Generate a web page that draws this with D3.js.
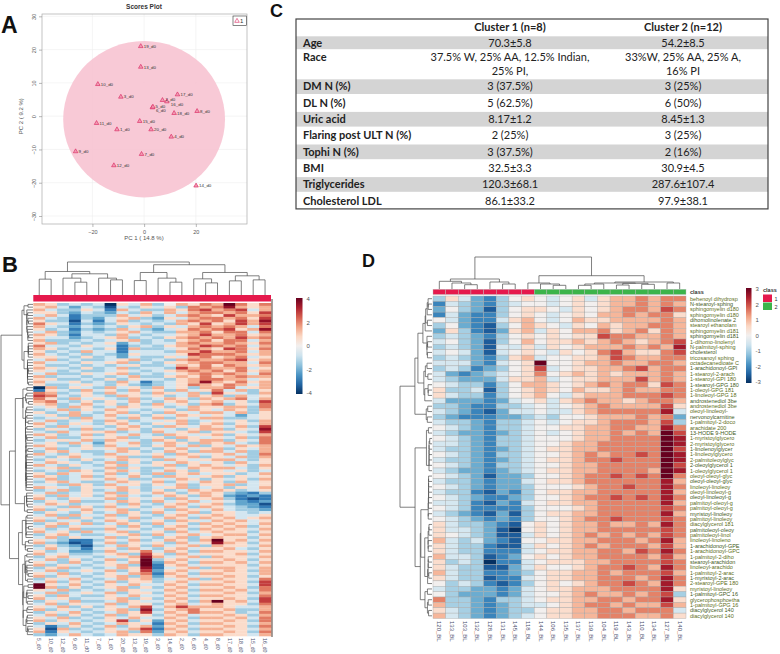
<!DOCTYPE html>
<html><head><meta charset="utf-8">
<script src="https://cdn.jsdelivr.net/npm/d3@7"></script>
<style>
body{margin:0;background:#fff;}
svg{display:block;font-family:"Liberation Sans",Arial,sans-serif;}
</style></head><body>
<svg id="fig" width="780" height="654"></svg>
<script>
// ---------------------------------------------------------------
// DATA
// ---------------------------------------------------------------
// Panel A: PCA scores
const pcaLabels = ["19_d0","13_d0","10_d0","3_d0","17_d0","2_d0","16_d0","5_d0","6_d0","8_d0","18_d0","15_d0","11_d0","1_d0","20_d0","4_d0","9_d0","7_d0","12_d0","14_d0"];
const pcaPC1 = [-1.3,-1.3,-17.9,-9.0,12.9,7.1,8.8,3.2,3.4,20.5,11.6,-1.7,-18.4,-10.5,2.7,10.5,-26.5,-1.0,-11.7,20.1];
const pcaPC2 = [21.0,14.8,9.6,5.8,6.5,4.8,4.4,2.6,2.8,1.5,0.9,-1.5,-2.1,-4.0,-4.0,-6.2,-10.6,-11.4,-14.8,-20.9];
const pcaEllipseCenter = [0, -0.9];
const pcaEllipseRadii = [31.3, 23.5];
const pcaXTicks = [-20, 0, 20];
const pcaYTicks = [-30, -20, -10, 0, 10, 20, 30];

// Panel C: cohort table
const tableColumns = ["", "Cluster 1 (n=8)", "Cluster 2 (n=12)"];
const tableVariables = ["Age","Race","DM N (%)","DL N (%)","Uric acid","Flaring post ULT N (%)","Tophi N (%)","BMI","Triglycerides","Cholesterol LDL"];
const tableCluster1 = ["70.3±5.8", ["37.5% W,  25% AA, 12.5% Indian,", "25% PI,"], "3 (37.5%)", "5 (62.5%)", "8.17±1.2", "2 (25%)", "3 (37.5%)", "32.5±3.3", "120.3±68.1", "86.1±33.2"];
const tableCluster2 = ["54.2±8.5", ["33%W, 25% AA, 25% A,", "16% PI"], "3 (25%)", "6  (50%)", "8.45±1.3", "3 (25%)", "2 (16%)", "30.9±4.5", "287.6±107.4", "97.9±38.1"];

// Panel B: heatmap, all samples (one letter per cell, I = 0, steps of 0.7)
const heatBStep = 0.7;
const heatBCols = ["5_d0","10_d0","12_d0","9_d0","11_d0","7_d0","1_d0","20_d0","13_d0","19_d0","3_d0","14_d0","2_d0","6_d0","4_d0","8_d0","17_d0","18_d0","15_d0","16_d0"];
const heatBRows = [
"KJGHG HCJHK GIKJL KPLJL","JKHFH GDHGJ HJGLK LNKJK","KHGGJ HEKHG GKJLM KLMHK","JJGFH GFHGK HKHKL LKLJM",
"HKHEG GGKHJ GHKLK JMKKL","KHGEG FHJKG FJHKL LKLJM","JGGDH EHKGH GHKLK LJMKN","LJHEG FGJHG HGKJM JKMKM",
"KHGFH GHGJK GJHKL KLKHL","JGHEG FGKHG FHJLK LMJKN","HKGFH GHJKH GGKKL JLLHL","KJGEH HGKHG HHJKM KKLJK",
"JHHFG HJKGH GJKLK LKMKL","KGGGH GHJKG HGJKL JLLHK","JKGHG HJFHG HHKLK KLKJL","LHHGJ HHEGH GJKKM LKLHK",
"KJGHH GJEKG GHJLK JMLJL","JGHGK HHEHH HGKKM KKLHK","KHGHG HGFJH HHJML LLKJK","JJHGJ GHFHG GJHKL JKLHJ",
"HKGHG GHJKG HGKLK KLMJK","KHHGJ HJKGH GJJKL LKKHL","JGGHG HGHJG GHKJL JLKJK","KJHGJ GHKGH HGMKL KKLHJ",
"JHGHG GHJHG HJKLK LJLJK","HKGGJ HJKGH GHJKL KLKHL","KGHHG HGHKG GJKJL JKLKK","JJGGH GJGJH HGJKL LKKHJ",
"KHHJG HGKHE GHJKN KJLJK","JGGHJ HGJGF GHJLK JLKHK","CKGJH GKHJG KHJGK KLHJK","EJHGK HJGKH JGKHJ LHKGJ",
"LKGHJ GKHJG KJHKG MJHGK","MLHGJ HGKJH JGHKJ KGKHJ","LJGKH JHGKG HKJGK JKLHK","KLHGJ GJHKH GJKHJ KHJGM",
"JKGHK HJGJG KHJGK LGJHL","HJGKJ GHKJH JGHKJ JKKGL","GHKGJ HKJHG HJGKJ HKJGK","JGHKH GJKGH GKJHK KHKGJ",
"HJGKG HKHJG JHKJH JHFHJ","GHJGK HJGKH KGJHK KGGHJ","HKGHJ GKJGH HJKGH JHJGK","KHGJH GJKHG JHKGJ KGJHK",
"JGKHJ HGJKH GKJHK JHKGM","GJHGK GHKJG JHGJK KGJHN","HGKHJ JKGHG KHJKG JJHGM","KJGHK GJHKH GKJHJ KGJHK",
"HKGGJ HJKGH JGKJH JHKGL","GHJHK GKJHG KJGJK KGJHL","HJGKH FJHKG HKJGK JKHGL","KJHGJ GKHJG JKHKG JHKJK",
"HKGHJ HJKGH GJKHJ KGJHK","GJKHG GHKJG HKJGK KHKGK","KHGJH GKHJH JGKJH JKHGL","HGJKH HJKGG KHJKG JHKGK",
"GJHGJ GHKJH GKJHJ KKHGJ","HKJHG HKGJG JHKJH JGKHJ","KHGJH GJKHH JKGJK JHJGK","HJKGH HKGJG GJHKJ KKHGJ",
"GHGKJ GJKHG HKJGJ JHJGH","JGKHJ HKGJG KGJKH JJGHK","KJGHK GJHKH GKJHJ KGJHJ","HKGHJ HKJGG JHKJG JHJGK",
"GJKHG GHKJH KGJHK JGKHJ","HHGKJ GKHJG JHKGJ JKGHJ","KJHGJ HJKHG HJKGH JGJHK","GHKGJ GHKJG JGHKJ KJGHJ",
"HKGHJ HKGJH KJGJK JGFEG","JGKHJ GJKHG HKJGK JFEFE","KHGJH HKGJH JGKHJ KGEDE","GJHKG GHKJG KHJKH JHFEF",
"HKJGH HJGKH GJKHJ KGFFD","JHGKJ GKHJG HKJGK JHGFE","KGJHK HJKGH JGKJH KHGGF","GJHGJ GHKJG KHJKG JJHGH",
"HKGKH HKGJH GJKHJ KJHHJ","JHKGJ GJHKG HKJGK JKHJK","KGHJG HKJGH JGKJH KJKHJ","GJKHK GHKJG KHJGK JKJHK",
"HKGJH HJGKH GJKHJ KJKGJ","JGHKG GKHJG HKJGK JKJHK","KHJGK HJKGH JGKHJ KJJGJ","GJKHG GHJKG KHJKH JKKHK",
"HKGJH HKGJH GJKGJ KJJGJ","JHGEE GJHKG HKJGK OJKHK","KGFDE HKGJH JGKHJ NKJGJ","GJGFD GHKJG KHJKG KJJHK",
"HKHGE HJGKH GJKHJ JKHGJ","JGHFF GKHJL HKJGK KJJHK","KHJGG HJKGM JGKHJ JJKGJ","GJKHH GHJKN KHJKG KJJHK",
"HKGJG HKGJO GJKHJ JKJGJ","JHGKH GJHKP FKJGK KJKHK","KGJHG HJKGO EJKHJ JJJGJ","GJKGH GHKJN EHJKG KKJHK",
"HKGHJ HKGJM FJKHJ JKJGK","JHKGH GJHKL EKJGK KJJHK","KGJHG HJKGK FJKHJ JKJGJ","GJHKH GHKJK GHJKG KJJHL",
"HKGJG HKGJJ GJKHJ JKJGM","PJHKH GJHKH HKJGK KJJHM","OKGJG HJKGJ GJKHJ JKJGL","JHKGH GHKJH HKJGK KJKHL",
"HKGHJ HKGJJ GJKHJ JKJGK","JGKHG GJHKH HKJGK KJJHL","KHJGH HJKGJ GJKHJ JKJGM","GJHKG GHKJH HKJGK OJKHM",
"HKGJH HKGJJ GJKHJ KJJGL","JHKGJ GJHKM HKMKK KJHHK","KGJHG HJKGN GJKLJ JKGGK","GJHKH GHKJM HKJLK KJGHL",
"HKGJG HKGJJ GJKHJ JKJGK","JHKGH GJHKH HKJGK KJKHL","KGJHG HJMGJ FJKHJ JKJGL","GJHKH GHKJH EKJGK KJJHK",
"HEGJG HKGJK FJKHJ JKJGL","JDKGH GJHKM EKJGK KJJHK","KEJHG HJKGL FJKHJ JKJGL","GFHKH GHKJJ GKJGK KJJHK"
];
// column dendrogram: [height, left, right], leaves are sample names
const heatBColTree = [32.7,
  [23.3, [15.7, "5_d0", "10_d0"],
         [21, [16.7, "12_d0", [12.7, "9_d0", "11_d0"]], [16.7, "7_d0", [15, "1_d0", "20_d0"]]]],
  [30, [22.3, [14.3, "13_d0", "19_d0"], [16.7, "3_d0", [12.7, "14_d0", "2_d0"]]],
       [22.3, [16, "6_d0", [12, "4_d0", "8_d0"]], [19, [14, "17_d0", "18_d0"], [15, "15_d0", "16_d0"]]]]
];

// Panel D: heatmap of selected lipids (I = 0, steps of 0.5)
const heatDStep = 0.5;
const heatDCols = ["120_BL","133_BL","103_BL","132_BL","128_BL","131_BL","145_BL","118_BL","144_BL","106_BL","135_BL","137_BL","139_BL","104_BL","119_BL","143_BL","110_BL","134_BL","127_BL","140_BL"];
const heatDClass = [1,1,1,1,1,1,1,1,2,2,2,2,2,2,2,2,2,2,2,2];
const heatDRowLabels = ["behenoyl dihydrosp","N-stearoyl-sphing","sphingomyelin d180","sphingomyelin d180","dihomolinolenate 2","stearoyl ethanolam","sphingomyelin d181","sphingomyelin d181","1-dihomo-linolenyl","N-palmitoyl-sphing","cholesterol","tricosanoyl sphing","octadecanedioate C","1-arachidonoyl-GPI","1-stearoyl-2-arach","1-stearoyl-GPI 180","1-stearoyl-GPG 180","1-oleoyl-GPG 181","1-linoleoyl-GPG 18","androstenediol 3be","androstenediol 3be","oleoyl-linoleoyl-","nervonoylcarnitine","1-palmitoyl-2-doco","arachidate 200","13-HODE  9-HODE","1-myristoylglycero","2-myristoylglycero","1-linolenoylglycer","1-linoleoylglycero","2-palmitoleoylglyc","2-oleoylglycerol 1","1-oleoylglycerol 1","oleoyl-oleoyl-glyc","oleoyl-oleoyl-glyc","linoleoyl-linoleoy","oleoyl-linoleoyl-g","oleoyl-linoleoyl-g","palmitoyl-oleoyl-g","palmitoyl-oleoyl-g","myristoyl-linoleoy","palmitoyl-linoleoy","diacylglycerol 181","palmitoleoyl-oleoy","palmitoleoyl-linol","linoleoyl-linoleno","1-arachidonoyl-GPE","1-arachidonoyl-GPC","1-palmitoyl-2-diho","stearoyl-arachidon","linoleoyl-arachido","1-palmitoyl-2-arac","1-myristoyl-2-arac","2-stearoyl-GPE 180","myristoyl-linoleoy","1-palmitoyl-GPC 16","glycerophosphoetha","1-palmitoyl-GPG 16","diacylglycerol 140","diacylglycerol 140"];
const heatDRows = [
"GJHFE GIJIH IJHJK KLKLL","EHGFE GHIIH IJIJK KLKLK","FIGFD GIJJI HJIJK LLKML","EHFEE GIJIH IJIKK LKLLJ",
"IHFEE HJKIH IKJJK KKKLK","GIFED GIKJI HJIKJ KKLLK","FJGED FJKHJ IKKLJ KLJLK","GHGFE GIJIJ IJJML LKKLK",
"HIGFD GIKIJ JKJKL KJKLM","GHGFD HHJHJ IJKKK LKLKN","HIHFD HIJIH JIJLM KJJLM","GHGFE GJKHI IJJKM LKKLL",
"HHHFE HIJOI IJKKL KKLLK","GHGEF GIJMH IJJKK LMKLL","HFEFG HIJLI JKJKJ KKKLK","HGFFF HJJKH IJJKK KMKLK",
"IHGGE GIKKJ IJKLK LLJML","JGGHD GIJKJ IKJJK LKKLL","JHGGE GIJKI HJKKK LLLML","HFFFE FHIJH JKLKK JKLLK",
"GGFEE GGHIH IJKLK KKKMJ","HGFED FHHIH HJKLL LLLNH","GFEEE FFGHG IIJKK KLKLF","HGGFE GGHIH IJJKL LLKMG",
"IHGFE GGHII JJKKL LKKNL","HGFFE FGHIH IJKKL KLKOM","IHGFE GGHII IJKKL LLLPN","HHGFE GGHII JKKLL LLLPN",
"HGGFE FGHIJ JKKLL LLLPM","IHGFE GGHII JKLKL LMLPN","HGGFE FGHIJ JKLLM LLLPN","IHGFE GGHII JKKLL LLLPM",
"HGFFE FGHIJ JKKLL LLKPN","IHGFD FFGII JKLLM LMLOL","HGGFE FFHIJ JKLLL LLLNK","IHGFE FFGII IJKLL MLLNL",
"HGGED FEGIJ JKKLL LLLNK","IHGFE EFGII JKLLM LMLNL","HHGED FEHIJ JKKLL LLLNK","IHGEE EEGII IJKLL LLLML",
"HGFED FDGIJ JKKLL LLLNK","IHGFE FEGII JKLLM LLLML","JHGGF EDIJI JKKLK KLKNL","JHHGF DCIJI JKKLL LLLML",
"JIHGF DDHJI JKLKL KLKML","KHGHF EDIIJ JKKLL LKLNK","JHGGE DDHJI JKLKL LLKMK","JHGGE EEHIJ JKKLL KMLNL",
"KHHGD EFIJI JKKLL LLKMK","JGHGC EEHIJ JJKKL LLLML","JHGGD DFHJI IJKLL MLKNL","KHGGE EFGIJ JKKLK LLLMK",
"JHGGD EEHIJ JKKLL LKLNL","IGHGE DEGIJ IJKLL MLKNL","HGGFF EFHIJ JKKKL LLLNJ","IGFFF EFHII JKLKK LKLMG",
"LGGFE GGHIJ JKKLL KLLNJ","KGGFE FGHHI JKLLK LKKMK","JHGFE FGGIJ JKKLL KLLLH","KHGFE FGHIJ JKKLL LKKLJ"
];
const heatDColTree = [32,
  [10, [7.7, "120_BL", [6, "133_BL", [4.3, "103_BL", "132_BL"]]],
       [7, "128_BL", [5, "131_BL", "145_BL"]]],
  [13.3, [6, "118_BL", [5, "144_BL", [3.7, "106_BL", "135_BL"]]],
         [7, [6, [5, [3.7, "137_BL", "139_BL"], "104_BL"], [5.7, [4, "119_BL", "143_BL"], [4.7, "110_BL", "134_BL"]]],
             [6, "127_BL", "140_BL"]]]
];

// ---------------------------------------------------------------
// HELPERS
// ---------------------------------------------------------------
const decodeRow = (s, step) => s.replace(/ /g, "").split("").map(c => (c.charCodeAt(0) - 73) * step);

// ward-style agglomeration that only merges neighbouring rows, so the
// tree fits the row order as drawn
function adjacentWard(rows) {
  let clusters = rows.map((v, i) => ({node: String(i), mean: v.slice(), n: 1, h: 0}));
  while (clusters.length > 1) {
    let best = 0, bestD = Infinity;
    for (let i = 0; i < clusters.length - 1; i++) {
      const a = clusters[i], b = clusters[i + 1];
      let s = 0;
      for (let k = 0; k < a.mean.length; k++) { const d = a.mean[k] - b.mean[k]; s += d * d; }
      const d = Math.sqrt(s * 2 * a.n * b.n / (a.n + b.n));
      if (d < bestD) { bestD = d; best = i; }
    }
    const a = clusters[best], b = clusters[best + 1];
    const n = a.n + b.n;
    const h = Math.max(bestD, a.h, b.h);
    clusters.splice(best, 2, {
      node: [h, a.node, b.node],
      mean: a.mean.map((v, k) => (v * a.n + b.mean[k] * b.n) / n),
      n: n, h: h
    });
  }
  return clusters[0].node;
}

function drawDendro(g, tree, leafPos, hRange, orient) {
  const root = d3.hierarchy(tree, d => Array.isArray(d) ? [d[1], d[2]] : null);
  root.eachAfter(n => {
    n.h = n.children ? n.data[0] : 0;
    n.p = n.children ? (n.children[0].p + n.children[1].p) / 2 : leafPos(n.data);
  });
  const hScale = d3.scaleLinear().domain([0, root.h]).range(hRange);
  const segs = [];
  root.each(n => {
    if (!n.children) return;
    const [a, b] = n.children;
    segs.push([[a.p, a.h], [a.p, n.h], [b.p, n.h], [b.p, b.h]]);
  });
  const line = orient === "top"
    ? d3.line().x(d => d[0]).y(d => hScale(d[1]))
    : d3.line().x(d => hScale(d[1])).y(d => d[0]);
  g.selectAll("path.dendro").data(segs).join("path")
    .attr("class", "dendro")
    .attr("d", line)
    .attr("fill", "none")
    .attr("stroke", "#4a4a4a")
    .attr("stroke-width", 0.7);
}

// rotated sample label, coloured like the pheatmap output
function sampleLabel(sel, text) {
  const parts = text.split("_");
  sel.append("tspan").attr("fill", "#4b4f6e").text(parts[0]);
  sel.append("tspan").attr("fill", "#e0782a").text("_");
  sel.append("tspan").attr("fill", "#4b4f6e").text(parts[1]);
}

function colorBar(g, x, y, w, h, domain, ticks) {
  const id = "grad" + Math.round(x);
  const cs = d3.scaleSequential(t => d3.interpolateRdBu(1 - t)).domain(domain);
  const grad = svg.select("defs").append("linearGradient").attr("id", id)
    .attr("x1", 0).attr("y1", 1).attr("x2", 0).attr("y2", 0);
  d3.range(0, 1.0001, 0.1).forEach(t => {
    grad.append("stop").attr("offset", t).attr("stop-color", cs(domain[0] + t * (domain[1] - domain[0])));
  });
  g.append("rect").attr("x", x).attr("y", y).attr("width", w).attr("height", h).attr("fill", `url(#${id})`);
  const ys = d3.scaleLinear().domain(domain).range([y + h - 1, y + 1]);
  g.selectAll("text.cbt" + id).data(ticks).join("text")
    .attr("x", x + w + 4).attr("y", d => ys(d) + 2)
    .attr("font-size", 6).attr("fill", "#555").text(d => d);
}

const svg = d3.select("#fig");
svg.append("defs");

// panel letters
const letters = [["A", 1, 33, 23], ["B", 2, 272, 22], ["C", 270, 17, 18], ["D", 362, 267, 18]];
svg.selectAll("text.letter").data(letters).join("text")
  .attr("class", "letter")
  .attr("x", d => d[1]).attr("y", d => d[2])
  .attr("font-size", d => d[3]).attr("font-weight", "bold").attr("fill", "#111")
  .text(d => d[0]);

// ---------------------------------------------------------------
// A. SCORES PLOT
// ---------------------------------------------------------------
{
  const g = svg.append("g");
  const x = d3.scaleLinear().domain([-39.5, 39.8]).range([42, 247]);
  const y = d3.scaleLinear().domain([-32.4, 30.7]).range([224, 14]);

  g.append("text").attr("x", 144).attr("y", 9).attr("text-anchor", "middle")
    .attr("font-size", 6.5).attr("font-weight", "bold").attr("fill", "#333").text("Scores Plot");

  g.selectAll("line.gx").data(pcaXTicks).join("line")
    .attr("x1", d => x(d)).attr("x2", d => x(d)).attr("y1", 14).attr("y2", 224)
    .attr("stroke", "#eeeeee").attr("stroke-width", 0.6);
  g.selectAll("line.gy").data(pcaYTicks).join("line")
    .attr("y1", d => y(d)).attr("y2", d => y(d)).attr("x1", 42).attr("x2", 247)
    .attr("stroke", "#eeeeee").attr("stroke-width", 0.6);

  g.append("ellipse")
    .attr("cx", x(pcaEllipseCenter[0])).attr("cy", y(pcaEllipseCenter[1]))
    .attr("rx", x(pcaEllipseRadii[0]) - x(0)).attr("ry", y(0) - y(pcaEllipseRadii[1]))
    .attr("fill", "#f7c3d1").attr("opacity", 0.9);

  g.append("rect").attr("x", 42).attr("y", 14).attr("width", 205).attr("height", 210)
    .attr("fill", "none").attr("stroke", "#aaa").attr("stroke-width", 0.7);

  const xa = g.append("g").attr("transform", "translate(0,224)")
    .call(d3.axisBottom(x).tickValues(pcaXTicks).tickSize(3));
  const ya = g.append("g").attr("transform", "translate(42,0)")
    .call(d3.axisLeft(y).tickValues(pcaYTicks).tickSize(3));
  [xa, ya].forEach(a => {
    a.select(".domain").remove();
    a.selectAll("line").attr("stroke", "#888").attr("stroke-width", 0.6);
    a.selectAll("text").attr("font-size", 5.5).attr("fill", "#555").attr("font-family", "Liberation Sans");
  });
  ya.selectAll("text").attr("transform", "rotate(-90)")
    .attr("x", 0).attr("dy", 0).attr("y", -6).attr("text-anchor", "middle");

  g.append("text").attr("x", 144).attr("y", 240).attr("text-anchor", "middle")
    .attr("font-size", 6).attr("fill", "#555").text("PC 1 ( 14.8 %)");
  g.append("text").attr("transform", `translate(23,${y(0)}) rotate(-90)`).attr("text-anchor", "middle")
    .attr("font-size", 6).attr("fill", "#555").text("PC 2 ( 9.2 %)");

  // crowded labels get a small nudge so they stay readable
  const nudge = {"16_d0": [1, 3.2], "6_d0": [0, 3.4], "2_d0": [0, -0.8], "5_d0": [0, -0.8]};
  const pts = pcaLabels.map((l, i) => ({l: l, px: pcaPC1[i], py: pcaPC2[i]}));
  const tri = d3.symbol().type(d3.symbolTriangle).size(9);
  g.selectAll("path.pt").data(pts).join("path")
    .attr("class", "pt")
    .attr("transform", d => `translate(${x(d.px)},${y(d.py)})`)
    .attr("d", tri).attr("fill", "#f19ab3").attr("stroke", "#d81e5b").attr("stroke-width", 0.6);
  g.selectAll("text.pl").data(pts).join("text")
    .attr("class", "pl")
    .attr("x", d => x(d.px) + 3 + (nudge[d.l] ? nudge[d.l][0] : 0))
    .attr("y", d => y(d.py) + 1.6 + (nudge[d.l] ? nudge[d.l][1] : 0))
    .attr("font-size", 4.4).attr("fill", "#333").text(d => d.l);

  g.append("rect").attr("x", 233).attr("y", 16).attr("width", 13.5).attr("height", 9.5)
    .attr("fill", "#fff").attr("stroke", "#333").attr("stroke-width", 0.6);
  g.append("path").attr("transform", "translate(237,21)").attr("d", tri)
    .attr("fill", "none").attr("stroke", "#d81e5b").attr("stroke-width", 0.6);
  g.append("text").attr("x", 240).attr("y", 23).attr("font-size", 6).attr("fill", "#333").text("1");
}

// ---------------------------------------------------------------
// C. TABLE
// ---------------------------------------------------------------
{
  const g = svg.append("g").attr("font-family", "Lato, 'Open Sans', sans-serif").style("white-space", "pre");
  const rows = [{label: tableColumns[0], c1: tableColumns[1], c2: tableColumns[2], head: true}]
    .concat(tableVariables.map((v, i) => ({label: v, c1: tableCluster1[i], c2: tableCluster2[i]})));
  const rowH = rows.map((r, i) => i === 0 ? 16.5 : i === 1 ? 14.5 : Array.isArray(r.c1) ? 28.5 : 16.3);
  let top = 19;
  rows.forEach((r, i) => { r.top = top; r.h = rowH[i]; top += rowH[i]; });
  const left = 296, right = 768;
  const colX = [303, 510, 683];

  g.selectAll("rect.band").data(rows.filter((r, i) => i % 2 === 1)).join("rect")
    .attr("x", left).attr("width", right - left)
    .attr("y", d => d.top + 0.8).attr("height", d => d.h - 1.6)
    .attr("fill", "#d4d4d4");

  rows.forEach(r => {
    const lines1 = Array.isArray(r.c1) ? r.c1 : [r.c1];
    const lines2 = Array.isArray(r.c2) ? r.c2 : [r.c2];
    const n = Math.max(lines1.length, lines2.length);
    const lh = 14.3;
    const y0 = r.top + r.h / 2 - (n - 1) * lh / 2 + 3.8;
    g.append("text").attr("x", colX[0]).attr("y", y0).attr("font-size", 11)
      .attr("font-weight", "bold").attr("fill", "#222").text(r.label);
    [lines1, lines2].forEach((ls, ci) => {
      ls.forEach((t, li) => {
        g.append("text").attr("x", colX[ci + 1]).attr("y", y0 + li * lh)
          .attr("text-anchor", "middle").attr("font-size", 11)
          .attr("font-weight", r.head ? "bold" : "normal").attr("fill", "#222").text(t);
      });
    });
  });
  g.append("rect").attr("x", left).attr("y", 19).attr("width", right - left).attr("height", top - 19)
    .attr("fill", "none").attr("stroke", "#444").attr("stroke-width", 1.2);
}

// ---------------------------------------------------------------
// B. HEATMAP (all samples)
// ---------------------------------------------------------------
{
  const g = svg.append("g");
  const vals = heatBRows.map(s => decodeRow(s, heatBStep));
  const x = d3.scaleBand().domain(heatBCols).range([33.3, 271]);
  const y = d3.scaleBand().domain(d3.range(vals.length)).range([303, 636]);
  const color = d3.scaleSequential(t => d3.interpolateRdBu(1 - t)).domain([-4, 4]).clamp(true);

  const cells = [];
  vals.forEach((row, r) => row.forEach((v, c) => cells.push({r: r, c: heatBCols[c], v: v})));
  g.selectAll("rect.cell").data(cells).join("rect")
    .attr("x", d => x(d.c)).attr("y", d => y(d.r))
    .attr("width", x.bandwidth() + 0.3).attr("height", y.bandwidth() + 0.3)
    .attr("fill", d => color(d.v));

  g.append("rect").attr("x", 33.3).attr("y", 295).attr("width", 271 - 33.3).attr("height", 6.5).attr("fill", "#e5194c");
  g.append("line").attr("x1", 272).attr("x2", 272).attr("y1", 299).attr("y2", 637)
    .attr("stroke", "#3b2b22").attr("stroke-width", 0.9);

  drawDendro(g.append("g"), heatBColTree, l => x(l) + x.bandwidth() / 2, [295, 262], "top");
  drawDendro(g.append("g"), adjacentWard(vals), i => y(+i) + y.bandwidth() / 2, [33, 1], "left");

  g.selectAll("text.cl").data(heatBCols).join("text")
    .attr("class", "cl")
    .attr("transform", d => `translate(${x(d) + x.bandwidth() / 2 - 1.8},638) rotate(90)`)
    .attr("font-size", 5.2)
    .each(function(d) { sampleLabel(d3.select(this), d); });

  colorBar(g, 296, 298, 6.5, 96, [-4, 4], [4, 2, 0, -2, -4]);
}

// ---------------------------------------------------------------
// D. HEATMAP (selected lipids)
// ---------------------------------------------------------------
{
  const g = svg.append("g");
  const vals = heatDRows.map(s => decodeRow(s, heatDStep));
  const x = d3.scaleBand().domain(heatDCols).range([433, 686]);
  const y = d3.scaleBand().domain(d3.range(vals.length)).range([296, 618.5]);
  const color = d3.scaleSequential(t => d3.interpolateRdBu(1 - t)).domain([-3, 3]).clamp(true);
  const classColor = d3.scaleOrdinal().domain([1, 2]).range(["#e5194c", "#3cb44a"]);

  const cells = [];
  vals.forEach((row, r) => row.forEach((v, c) => cells.push({r: r, c: heatDCols[c], v: v})));
  g.selectAll("rect.cell").data(cells).join("rect")
    .attr("x", d => x(d.c)).attr("y", d => y(d.r))
    .attr("width", x.bandwidth()).attr("height", y.bandwidth())
    .attr("fill", d => color(d.v)).attr("stroke", "#a8a8a8").attr("stroke-width", 0.4);

  g.selectAll("rect.cls").data(heatDCols).join("rect")
    .attr("class", "cls")
    .attr("x", d => x(d)).attr("y", 289.3).attr("width", x.bandwidth()).attr("height", 5.2)
    .attr("fill", (d, i) => classColor(heatDClass[i])).attr("stroke", "#bbb").attr("stroke-width", 0.4);
  g.append("text").attr("x", 690).attr("y", 294).attr("font-size", 5.5).attr("font-weight", "bold")
    .attr("fill", "#333").text("class");

  drawDendro(g.append("g"), heatDColTree, l => x(l) + x.bandwidth() / 2, [289, 257], "top");
  drawDendro(g.append("g"), adjacentWard(vals), i => y(+i) + y.bandwidth() / 2, [432, 400], "left");

  g.selectAll("text.rl").data(heatDRowLabels).join("text")
    .attr("class", "rl")
    .attr("x", 690).attr("y", (d, i) => y(i) + y.bandwidth() / 2 + 1.9)
    .attr("font-size", 5.5).attr("fill", (d, i) => i % 3 === 1 ? "#3f5a1a" : "#5d6e20").text(d => d);

  g.selectAll("text.cl").data(heatDCols).join("text")
    .attr("class", "cl")
    .attr("transform", d => `translate(${x(d) + x.bandwidth() / 2 - 2},621) rotate(90)`)
    .attr("font-size", 6)
    .each(function(d) { sampleLabel(d3.select(this), d); });

  colorBar(g, 746, 288, 5.5, 95, [-3, 3], [3, 2, 1, 0, -1, -2, -3]);

  // class legend
  g.append("text").attr("x", 763).attr("y", 292).attr("font-size", 5.5).attr("font-weight", "bold")
    .attr("fill", "#333").text("class");
  g.selectAll("rect.lg").data([1, 2]).join("rect")
    .attr("class", "lg")
    .attr("x", 763).attr("y", (d, i) => 294.5 + i * 8).attr("width", 9).attr("height", 7.5)
    .attr("fill", d => classColor(d));
  g.selectAll("text.lg").data([1, 2]).join("text")
    .attr("class", "lg")
    .attr("x", 774.5).attr("y", (d, i) => 300.5 + i * 8).attr("font-size", 5.5).attr("fill", "#333").text(d => d);
}
</script>
</body></html>
